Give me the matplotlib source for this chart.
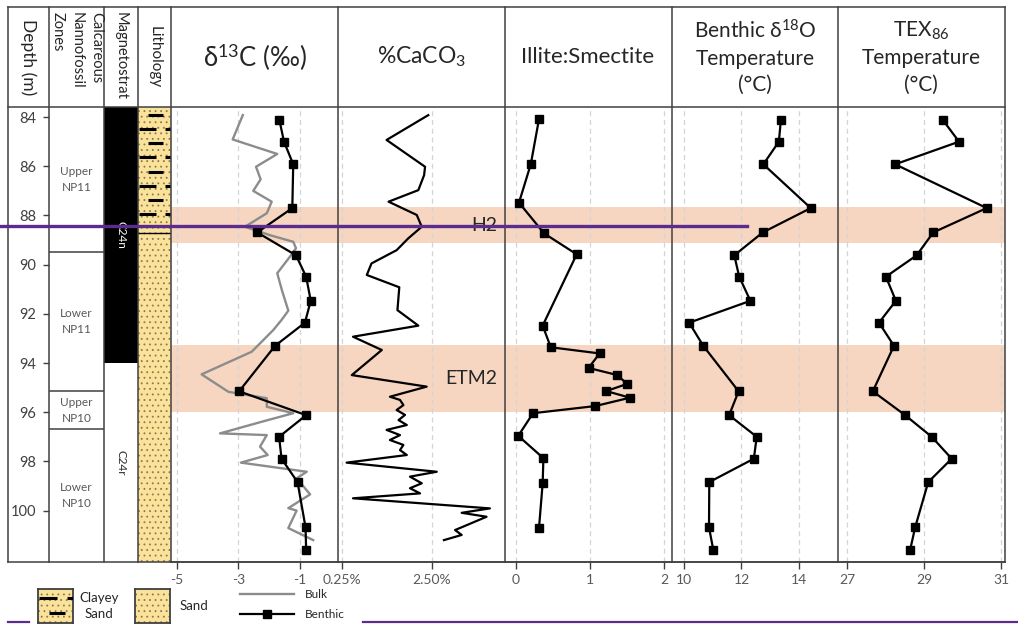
import numpy as np
import matplotlib.pyplot as plt
from matplotlib.lines import Line2D
from matplotlib.patches import Rectangle
from matplotlib.ticker import NullLocator

plt.rcParams['font.family'] = ['Lato', 'DejaVu Sans']
plt.rcParams['mathtext.fontset'] = 'custom'
plt.rcParams['mathtext.rm'] = 'Lato'
plt.rcParams['mathtext.it'] = 'Lato:italic'
plt.rcParams['hatch.linewidth'] = 0.6

# ---- data, depth in m ----
benthic_depth = [84.12, 85.0, 85.92, 87.7, 88.69, 89.62, 90.49, 91.47, 92.36,
                 93.3, 95.15, 96.12, 97.0, 97.89, 98.84, 100.68, 101.6]
d13c_benthic = [-1.67, -1.52, -1.22, -1.25, -2.39, -1.13, -0.80, -0.65, -0.84,
                -1.81, -2.98, -0.80, -1.68, -1.60, -1.08, -0.82, -0.80]
d18o_temp = [13.37, 13.30, 12.76, 14.41, 12.74, 11.75, 11.92, 12.31, 10.18,
             10.67, 11.90, 11.57, 12.53, 12.43, 10.88, 10.87, 11.02]
tex86_temp = [29.49, 29.91, 28.25, 30.63, 29.24, 28.81, 28.01, 28.27, 27.83,
              28.22, 27.67, 28.51, 29.20, 29.72, 29.11, 28.77, 28.64]

bulk_depth = [83.92, 84.91, 85.50, 86.02, 86.53, 87.00, 87.44, 87.91, 88.46,
              88.80, 89.07, 89.33, 89.68, 90.35, 91.03, 91.87, 92.25, 92.66,
              93.54, 94.46, 95.17, 95.43, 95.78, 96.04, 96.39, 96.86, 96.93,
              97.40, 97.74, 98.05, 98.42, 98.69, 99.34, 99.90, 100.0, 100.71,
              101.2]
d13c_bulk = [-2.86, -3.19, -1.74, -2.43, -2.28, -2.52, -1.92, -2.08, -2.79,
             -1.98, -1.22, -1.13, -1.33, -1.74, -1.59, -1.38, -1.60, -1.87,
             -2.57, -4.20, -3.33, -2.08, -2.08, -1.22, -2.25, -3.60, -2.08,
             -2.30, -2.05, -2.92, -0.78, -1.11, -0.67, -1.38, -1.11, -1.38,
             -0.57]

caco3_depth = [83.92, 84.93, 86.02, 86.36, 86.97, 87.44, 87.98, 88.46, 88.93,
               89.41, 89.95, 90.42, 90.92, 91.85, 92.48, 92.93, 93.47, 94.49,
               94.96, 95.37, 95.50, 95.71, 95.91, 96.11, 96.32, 96.52, 96.72,
               96.93, 97.13, 97.33, 97.54, 97.74, 98.05, 98.42, 98.62, 98.89,
               99.09, 99.30, 99.50, 99.91, 100.09, 100.25, 100.65, 100.79,
               100.99, 101.20]
caco3_pct = [2.27, 0.78, 2.09, 2.04, 1.76, 0.82, 1.69, 1.92, 1.36,
             1.01, 0.53, 0.47, 1.08, 1.03, 1.76, 0.33, 0.69, 0.32,
             2.18, 0.85, 1.10, 1.20, 1.01, 1.25, 1.06, 1.31, 0.78,
             1.10, 0.85, 1.20, 1.10, 1.31, 0.28, 2.82, 1.42, 1.92,
             1.42, 1.84, 0.33, 11.0, 5.34, 10.1, 5.57, 4.51,
             5.34, 3.39]

illite_depth = [84.09, 85.91, 87.48, 88.73, 89.58, 92.48, 93.36, 93.61, 94.20,
                94.49, 94.85, 95.14, 95.41, 95.75, 96.04, 96.96, 97.87, 98.89,
                100.72]
illite_smectite = [0.31, 0.20, 0.04, 0.38, 0.82, 0.36, 0.47, 1.13, 0.98,
                   1.37, 1.50, 1.22, 1.54, 1.07, 0.23, 0.03, 0.37, 0.36,
                   0.31]

event_names = ['H2', 'ETM2']
event_top = [87.66, 93.27]
event_base = [89.12, 95.98]

zone_names = ['Upper\nNP11', 'Lower\nNP11', 'Upper\nNP10', 'Lower\nNP10']
zone_top = [83.59, 89.49, 95.15, 96.7]
zone_base = [89.49, 95.15, 96.7, 102.09]

chron_names = ['C24n', 'C24r']
chron_top = [83.59, 94.0]
chron_base = [94.0, 102.09]

litho_names = ['Clayey Sand', 'Sand']
litho_top = [83.59, 88.7]
litho_base = [88.7, 102.09]

depth_ticks = [84, 86, 88, 90, 92, 94, 96, 98, 100]

# ---- layout (pixels of the 1018x637 picture) ----
W, H = 1018, 637
TOP, HEAD, BOT = 7, 107, 562
EDGES = [8, 49, 104, 138, 171, 338, 505, 672, 838, 1005]
YLIM = (102.09, 83.59)
FRAME = '#404040'
TICKTXT = '#595959'
TXT = '#262626'
BAND = '#F6D6C1'
YELLOW = '#FBE29A'
DOTS = '#8a7a50'

fig = plt.figure(figsize=(W / 100, H / 100), dpi=100)


def fx(px):
    return px / W


def fy(py):
    return 1 - py / H


def px_axes(x0, x1, y0=HEAD, y1=BOT):
    ax = fig.add_axes([fx(x0), fy(y1), (x1 - x0) / W, (y1 - y0) / H])
    for s in ax.spines.values():
        s.set_visible(False)
    return ax


def column_axes(x0, x1):
    ax = px_axes(x0, x1)
    ax.set_xlim(0, 1)
    ax.set_ylim(*YLIM)
    ax.set_xticks([])
    ax.set_yticks([])
    return ax


# ---- nannofossil zones + depth axis ----
ax_nan = column_axes(EDGES[1], EDGES[2])
ax_nan.set_yticks(depth_ticks)
ax_nan.tick_params(axis='y', direction='out', length=4, width=1, color=FRAME,
                   labelsize=10.5, labelcolor=FRAME, pad=5)
for name, t, b in zip(zone_names, zone_top, zone_base):
    ax_nan.text(0.5, (t + b) / 2, name, ha='center', va='center',
                fontsize=8.5, color=TICKTXT, linespacing=1.5)
    if b < YLIM[0]:
        ax_nan.axhline(b, color=FRAME, lw=1.1)

# ---- magnetostratigraphy ----
ax_mag = column_axes(EDGES[2], EDGES[3])
for name, t, b in zip(chron_names, chron_top, chron_base):
    normal = name.endswith('n')
    ax_mag.axhspan(t, b, color='black' if normal else 'white', lw=0)
    ax_mag.text(0.5, (t + b) / 2, name, rotation=270, ha='center', va='center',
                fontsize=8.5, color='white' if normal else TXT)

# ---- lithology ----
ax_lit = column_axes(EDGES[3], EDGES[4])


def draw_dash_rows(ax, rows):
    for i, r in enumerate(rows):
        if i % 2 == 0:
            segs = [(0.30, 0.76)]
        else:
            segs = [(0.03, 0.55), (0.82, 1.0)]
        for a, b in segs:
            ax.plot([a, b], [r, r], color='black', lw=2.2,
                    solid_capstyle='butt', zorder=3)


for name, t, b in zip(litho_names, litho_top, litho_base):
    ax_lit.add_patch(Rectangle((0, t), 1, b - t, facecolor=YELLOW,
                               edgecolor=DOTS, hatch='...', lw=0, zorder=1))
    if name == 'Clayey Sand':
        draw_dash_rows(ax_lit, np.arange(t + 0.33, b - 0.4, 0.574))
        ax_lit.axhline(b, color='black', lw=1.0, zorder=3)

# ---- data panels ----
panels = [
    dict(x0=EDGES[4], x1=EDGES[5], xlim=(-5.195, 0.236), ticks=[-5, -3, -1],
         labels=['-5', '-3', '-1'], log=False),
    dict(x0=EDGES[5], x1=EDGES[6], xlim=(0.2247, 16.2), ticks=[0.25, 2.5],
         labels=['0.25%', '2.50%'], log=True),
    dict(x0=EDGES[6], x1=EDGES[7], xlim=(-0.149, 2.108), ticks=[0, 1, 2],
         labels=['0', '1', '2'], log=False),
    dict(x0=EDGES[7], x1=EDGES[8], xlim=(9.583, 15.357), ticks=[10, 12, 14],
         labels=['10', '12', '14'], log=False),
    dict(x0=EDGES[8], x1=EDGES[9], xlim=(26.766, 31.104), ticks=[27, 29, 31],
         labels=['27', '29', '31'], log=False),
]
axes = []
for p in panels:
    ax = px_axes(p['x0'], p['x1'])
    if p['log']:
        ax.set_xscale('log')
    ax.set_xlim(*p['xlim'])
    ax.set_ylim(*YLIM)
    ax.set_yticks([])
    ax.set_xticks(p['ticks'])
    ax.set_xticklabels(p['labels'])
    ax.xaxis.set_minor_locator(NullLocator())
    ax.spines['bottom'].set_visible(True)
    ax.spines['bottom'].set_color(FRAME)
    ax.spines['bottom'].set_linewidth(1.1)
    ax.tick_params(axis='x', direction='out', length=5, width=1, color=FRAME,
                   labelsize=10, labelcolor=TICKTXT, pad=4)
    for t, b in zip(event_top, event_base):
        ax.axhspan(t, b, color=BAND, lw=0, zorder=0)
    for v in p['ticks']:
        ax.axvline(v, color='#d4d4d4', lw=0.9, ls=(0, (4, 3)), zorder=1)
    axes.append(ax)

ax13, axca, axil, ax18, axtex = axes
mk = dict(marker='s', markersize=5.5, color='black', lw=1.6, zorder=4)
bulk_line, = ax13.plot(d13c_bulk, bulk_depth, color='#8c8c8c', lw=1.7, zorder=3,
                       label='Bulk')
benthic_line, = ax13.plot(d13c_benthic, benthic_depth, label='Benthic', **mk)
axca.plot(caco3_pct, caco3_depth, color='black', lw=1.6, zorder=3)
axil.plot(illite_smectite, illite_depth, **mk)
ax18.plot(d18o_temp, benthic_depth, **mk)
axtex.plot(tex86_temp, benthic_depth, **mk)

for name, t, b in zip(event_names, event_top, event_base):
    axca.text(0.955, (t + b) / 2, name, transform=axca.get_yaxis_transform(),
              ha='right', va='center', fontsize=14, color=TXT, zorder=5)

# ---- table frame ----
for x in EDGES:
    fig.add_artist(Line2D([fx(x)] * 2, [fy(TOP), fy(BOT)], color=FRAME, lw=1.1))
for y in (TOP, HEAD, BOT):
    fig.add_artist(Line2D([fx(EDGES[0]), fx(EDGES[-1])], [fy(y)] * 2,
                          color=FRAME, lw=1.1))

# ---- header texts ----
hy = fy((TOP + HEAD) / 2)
fig.text(fx(28), hy, 'Depth (m)', rotation=270, ha='center', va='center',
         fontsize=12.5, color=TXT)
fig.text(fx(77), fy(12), 'Calcareous\nNannofossil\nZones', rotation=270,
         ha='center', va='top', multialignment='left', fontsize=10.5,
         color=TXT, linespacing=1.5)
fig.text(fx(121), fy(12), 'Magnetostrat', rotation=270, ha='center', va='top',
         fontsize=10.5, color=TXT)
fig.text(fx(154.5), hy, 'Lithology', rotation=270, ha='center', va='center',
         fontsize=11, color=TXT)
fig.text(fx(255), hy, 'δ$^{13}$C (‰)', ha='center', va='center',
         fontsize=18.5, color=TXT)
fig.text(fx(422), hy, '%CaCO$_3$', ha='center', va='center',
         fontsize=16.5, color=TXT)
fig.text(fx(588), hy, 'Illite:Smectite', ha='center', va='center',
         fontsize=16, color=TXT)
fig.text(fx(755), hy, 'Benthic δ$^{18}$O\nTemperature\n(°C)', ha='center',
         va='center', fontsize=15, color=TXT, linespacing=1.4)
fig.text(fx(921), hy, 'TEX$_{86}$\nTemperature\n(°C)', ha='center',
         va='center', fontsize=15, color=TXT, linespacing=1.4)

# ---- legend ----
sw_clay = fig.add_axes([fx(38), fy(623), 35 / W, 34 / H])
sw_sand = fig.add_axes([fx(135), fy(623), 35 / W, 34 / H])
for sw in (sw_clay, sw_sand):
    sw.set_xlim(0, 1)
    sw.set_ylim(1, 0)
    sw.set_xticks([])
    sw.set_yticks([])
    sw.add_patch(Rectangle((0, 0), 1, 1, facecolor=YELLOW, edgecolor=DOTS,
                           hatch='...', lw=0))
    for s in sw.spines.values():
        s.set_color(FRAME)
        s.set_linewidth(1.3)
draw_dash_rows(sw_clay, [0.72, 0.27])
fig.text(fx(99), fy(606), 'Clayey\nSand', ha='center', va='center',
         fontsize=9.5, color=TXT, linespacing=1.3)
fig.text(fx(194), fy(606), 'Sand', ha='center', va='center', fontsize=9.5,
         color=TXT)
fig.legend([bulk_line, benthic_line], ['Bulk', 'Benthic'], loc='upper left',
           bbox_to_anchor=(fx(240), fy(589)), frameon=False, fontsize=8.5,
           handlelength=4.6, handletextpad=0.9, labelspacing=0.75,
           borderpad=0, borderaxespad=0, labelcolor=TXT)

# ---- purple marker lines ----
PURPLE = '#5B2C8E'
fig.add_artist(Line2D([0, fx(747)], [fy(226)] * 2, color=PURPLE, lw=2.4, zorder=10))
fig.add_artist(Line2D([fx(8), fx(29)], [fy(622)] * 2, color=PURPLE, lw=1.6, zorder=10))
fig.add_artist(Line2D([fx(363), 1], [fy(622)] * 2, color=PURPLE, lw=1.6, zorder=10))

fig.savefig('out.png', dpi=100, facecolor='white')
